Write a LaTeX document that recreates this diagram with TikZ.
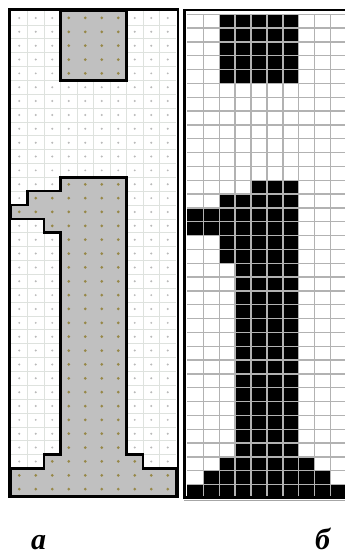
\documentclass[tikz,border=0pt]{standalone}
\usepackage{fontspec}
\setmainfont{Liberation Serif}
\definecolor{cellgray}{RGB}{192,192,192}
\definecolor{dotolive}{RGB}{150,135,70}
\definecolor{gridgray}{RGB}{222,226,222}
\begin{document}
\begin{tikzpicture}[
    x=1pt, y=-1pt,
    frame/.style={draw=black, line width=2.6pt},
    outline/.style={draw=black, line width=2.6pt, line join=miter},
    thingrid/.style={draw=gridgray, line width=0.6pt},
    pixgrid/.style={draw=gray!60, line width=1.3pt},
    pixel/.style={fill=black},
    panellabel/.style={font=\fontsize{30}{30}\selectfont\bfseries\itshape, inner sep=0pt}
  ]
  \useasboundingbox (0,0) rectangle (345,560);

  % Left panel: cell grid with the outlined letter
  \begin{scope}[shift={(11pt,-11pt)}, x=16.5pt, y=-13.86pt]
    \fill[white] (0,0) rectangle (10,35);
    \foreach \i in {1,...,9} \draw[thingrid] (\i,0) -- (\i,35);
    \foreach \j in {1,...,34} \draw[thingrid] (0,\j) -- (10,\j);
    \foreach \i in {0,...,9}
      \foreach \j in {0,...,34}
        \fill[gray!55] (\i+0.5,\j+0.5) circle (1.1pt);

    % Letter body
    \fill[cellgray] (3,0) rectangle (7,5);
    \fill[cellgray] (3,12) -- (7,12) -- (7,32) -- (8,32) -- (8,33) -- (10,33)
      -- (10,35) -- (0,35) -- (0,33) -- (2,33) -- (2,32) -- (3,32) -- (3,16)
      -- (2,16) -- (2,15) -- (0,15) -- (0,14) -- (1,14) -- (1,13) -- (3,13) -- cycle;
    \begin{scope}
      \clip (3,0) rectangle (7,5)
        (3,12) -- (7,12) -- (7,32) -- (8,32) -- (8,33) -- (10,33)
        -- (10,35) -- (0,35) -- (0,33) -- (2,33) -- (2,32) -- (3,32) -- (3,16)
        -- (2,16) -- (2,15) -- (0,15) -- (0,14) -- (1,14) -- (1,13) -- (3,13) -- cycle;
      \foreach \i in {0,...,9}
        \foreach \j in {0,...,34}
          \fill[dotolive] (\i+0.5,\j+0.5) circle (1.5pt);
    \end{scope}

    % Outline
    \draw[outline] (3,0) rectangle (7,5);
    \draw[outline] (3,12) -- (7,12) -- (7,32) -- (8,32) -- (8,33) -- (10,33)
      -- (10,35) -- (0,35) -- (0,33) -- (2,33) -- (2,32) -- (3,32) -- (3,16)
      -- (2,16) -- (2,15) -- (0,15) -- (0,14) -- (1,14) -- (1,13) -- (3,13) -- cycle;
  \end{scope}
  \draw[frame] (9.5,9.5) rectangle (178,497);

  % Right panel: pixel raster of the letter
  \begin{scope}[shift={(187.3pt,-14.3pt)}, x=15.93pt, y=-13.83pt]
    \foreach \r/\a/\b in {1/3/7, 2/3/7, 3/3/7, 4/3/7, 5/3/7,
                          13/5/7, 14/3/7, 15/1/7, 16/1/7, 17/3/7, 18/3/7,
                          33/3/8, 34/2/9, 35/1/10}
      \fill[pixel] (\a-1,\r-1) rectangle (\b,\r);
    \fill[pixel] (3,18) rectangle (7,32);
    \foreach \i in {1,...,9} \draw[pixgrid] (\i,0) -- (\i,35);
    \foreach \j in {0,...,34} \draw[pixgrid] (0,\j) -- (10.2,\j);
  \end{scope}
  \draw[frame] (184.5,10) rectangle (352,497.5);
  \draw[gray!70, line width=1pt] (184,500.5) -- (345,500.5);

  % Panel labels
  \node[panellabel] (labA) at (38.5,542.5) {а};
  \node[panellabel] (labB) at (322.5,539) {б};
\end{tikzpicture}
\end{document}
